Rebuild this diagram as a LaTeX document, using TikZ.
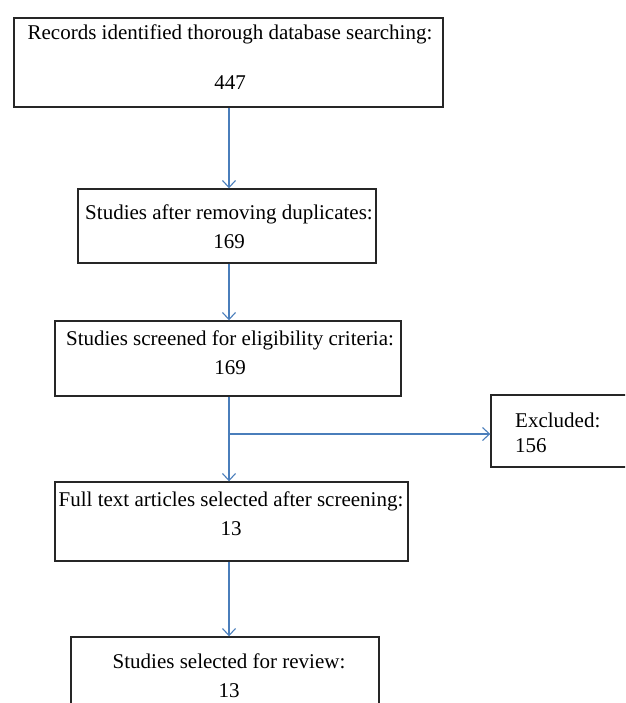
\documentclass[tikz,border=0pt]{standalone}
\usepackage{fontspec}
\setmainfont{Liberation Serif}
\usetikzlibrary{arrows.meta}
\definecolor{lineblue}{HTML}{4A7EBB}
\definecolor{boxline}{HTML}{262626}
\tikzset{
  box/.style={draw=boxline, line width=1.4pt, rectangle, inner sep=0pt},
  txt/.style={inner sep=0pt, align=center, font=\fontsize{21}{29}\selectfont},
  txtl/.style={inner sep=0pt, align=left, font=\fontsize{21}{25}\selectfont},
  arr/.style={draw=lineblue, line width=1.1pt, -{Straight Barb[length=7pt,width=13pt,line width=1.1pt]}}
}
\begin{document}
\begin{tikzpicture}[x=1pt,y=-1pt]
\useasboundingbox (0,0) rectangle (625,703);
\fill[white] (0,0) rectangle (625,703);
\clip (0,0) rectangle (625,703);
% boxes
\node[box, minimum width=429pt, minimum height=89pt] (b1) at (228.5,62.5) {};
\node[box, minimum width=298pt, minimum height=74pt] (b2) at (227,226) {};
\node[box, minimum width=346pt, minimum height=75pt] (b3) at (228,358.5) {};
\node[box, minimum width=353pt, minimum height=79pt] (b4) at (231.5,521.5) {};
\node[box, minimum width=308pt, minimum height=83pt] (b5) at (225,678.5) {};
\node[box, minimum width=144pt, minimum height=72pt] (ex) at (563,431) {};
% texts
\node[txt] (b1t) at (230,57) {Records identified thorough database searching:\\[21pt]447};
\node[txt] (b2t) at (229,227) {Studies after removing duplicates:\\169};
\node[txt] (b3t) at (230,353) {Studies screened for eligibility criteria:\\169};
\node[txt] (b4t) at (231,513.5) {Full text articles selected after screening:\\13};
\node[txt] (b5t) at (229,676) {Studies selected for review:\\13};
\node[txtl, anchor=west] (ext) at (515,432.5) {Excluded:\\156};
% connectors
\coordinate (spine) at (229,0);
\coordinate (br) at (229,434);
\draw[arr] (b1.south -| spine) -- (b2.north -| spine);
\draw[arr] (b2.south -| spine) -- (b3.north -| spine);
\draw[arr] (b3.south -| spine) -- (b4.north -| spine);
\draw[arr] (b4.south -| spine) -- (b5.north -| spine);
\draw[arr] (br) -- (br -| ex.west);
\end{tikzpicture}
\end{document}
